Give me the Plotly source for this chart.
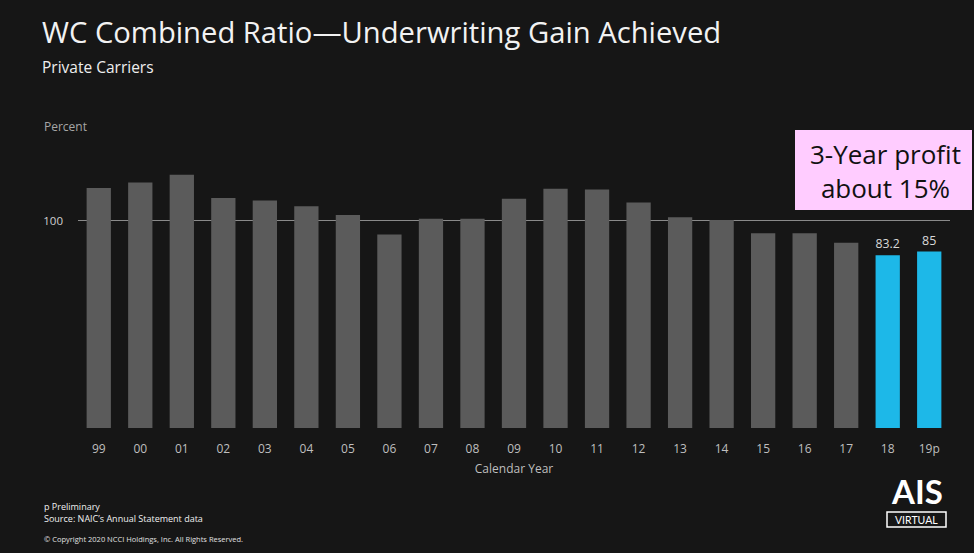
import plotly.graph_objects as go

years = ["99", "00", "01", "02", "03", "04", "05", "06", "07", "08", "09",
         "10", "11", "12", "13", "14", "15", "16", "17", "18", "19p"]
combined_ratio = [115.6, 118.3, 122.0, 110.8, 109.6, 106.9, 102.6, 93.3, 100.8, 100.8,
                  110.5, 115.3, 114.9, 108.7, 101.6, 100.2, 93.9, 93.9, 89.3, 83.2, 85.0]
highlight = [False] * 19 + [True, True]
y_ticks = [100]

GRAY = "#5b5b5b"
BLUE = "#1db8e8"
BG = "#161616"
FONT = "Open Sans"

colors = [BLUE if h else GRAY for h in highlight]
labels = [f"{v:g}" if h else "" for v, h in zip(combined_ratio, highlight)]

W, H = 974, 553
ML, MR, MT, MB = 78, 24, 130, 125
pw, ph = W - ML - MR, H - MT - MB


def px(x):
    return (x - ML) / pw


def py(y):
    return (H - MB - y) / ph


fig = go.Figure(go.Bar(
    x=years, y=combined_ratio,
    marker=dict(color=colors, line=dict(width=0)),
    text=labels, textposition="outside", cliponaxis=False,
    textfont=dict(color="#d9d9d9", size=12.5, family=FONT),
    hoverinfo="x+y",
))

fig.update_layout(
    width=W, height=H,
    paper_bgcolor=BG, plot_bgcolor=BG,
    margin=dict(l=ML, r=MR, t=MT, b=MB),
    bargap=0.415,
    showlegend=False,
    font=dict(family=FONT, color="#bfbfbf"),
    xaxis=dict(
        type="category", categoryorder="array", categoryarray=years,
        showgrid=False, showline=False, zeroline=False, ticks="",
        tickfont=dict(size=12, color="#bfbfbf"),
        ticklabelstandoff=12,
        title=dict(text="Calendar Year", font=dict(size=12, color="#bfbfbf"), standoff=8),
    ),
    yaxis=dict(
        range=[0, 143.6], tickvals=y_ticks, ticktext=[str(t) for t in y_ticks],
        showgrid=True, gridcolor="#8a8a8a", gridwidth=1,
        zeroline=False, showline=False, ticks="",
        tickfont=dict(size=11.5, color="#d0d0d0"),
        ticklabelstandoff=14,
    ),
)

texts = [
    ("WC Combined Ratio\u2014Underwriting Gain Achieved", 40, 32, 29.2, "#f2f2f2"),
    ("Private Carriers", 40, 67, 15.5, "#eeeeee"),
    ("Percent", 42, 126, 12, "#a6a6a6"),
    ("p Preliminary", 42, 506, 9, "#f0f0f0"),
    ("Source: NAIC\u2019s Annual Statement data", 42, 518, 9, "#f0f0f0"),
    ("\u00a9 Copyright 2020 NCCI Holdings, Inc. All Rights Reserved.", 42, 539, 7.5, "#e0e0e0"),
]
for t, x, y, s, c in texts:
    fig.add_annotation(xref="paper", yref="paper", xanchor="left", yanchor="middle",
                       showarrow=False, x=px(x), y=py(y), text=t,
                       font=dict(size=s, color=c, family=FONT))

fig.add_shape(type="rect", xref="paper", yref="paper",
              x0=px(795), x1=px(972), y0=py(210), y1=py(130),
              fillcolor="#ffccff", line=dict(width=0), layer="above")
fig.add_annotation(xref="paper", yref="paper", x=px(885), y=py(171),
                   xanchor="center", yanchor="middle", showarrow=False, align="center",
                   text="3-Year profit<br>about 15%",
                   font=dict(size=26, color="#111111", family=FONT))
# AIS logo
fig.add_annotation(xref="paper", yref="paper", x=px(917), y=py(491),
                   xanchor="center", yanchor="middle", showarrow=False,
                   text="<b>AIS</b>", font=dict(size=33, color="#ffffff", family="Lato"))
fig.add_shape(type="rect", xref="paper", yref="paper",
              x0=px(887), x1=px(946), y0=py(527), y1=py(512),
              fillcolor=BG, line=dict(color="#ffffff", width=1.5))
fig.add_annotation(xref="paper", yref="paper", x=px(916.5), y=py(520),
                   xanchor="center", yanchor="middle", showarrow=False,
                   text="VIRTUAL", font=dict(size=10.5, color="#ffffff", family="Lato"))

fig.write_html("out.html", config={"displayModeBar": False},
               post_script="document.body.style.margin='0px';")
